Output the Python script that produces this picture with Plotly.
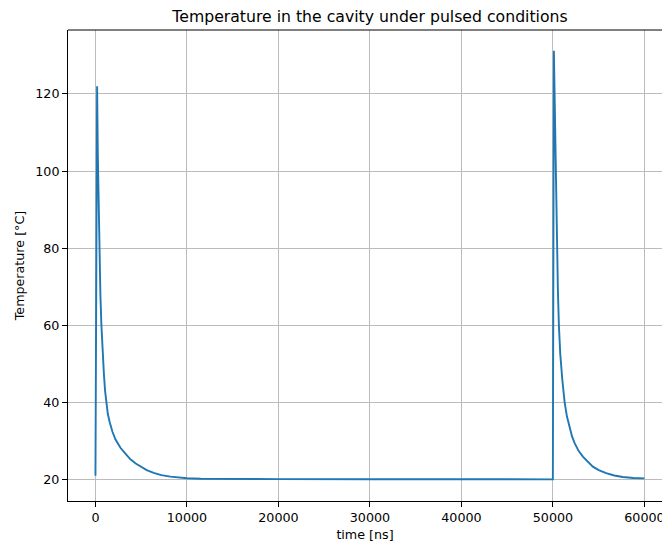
import plotly.graph_objects as go

# Data
time_ns = [
    0, 180, 260, 340, 440, 540, 650, 780, 920, 1050, 1170, 1350, 1560, 1850,
    2180, 2450, 2730, 3300, 3820, 4400, 4910, 5600, 6370, 7200, 8190, 9100, 10010,
    11500, 13000, 20000, 30000, 40000, 49990,
    50100, 50180, 50290, 50430, 50540, 50650, 50800, 51025, 51276,
    51530, 51820, 52080, 52370, 52800, 53270, 53800, 54360, 55000,
    55820, 56700, 57630, 58800, 60000,
]
temp_c = [
    20.9, 122.0, 104.0, 90.0, 78.0, 68.0, 60.0, 53.0, 47.5, 43.0, 40.0, 37.0, 34.8, 32.4,
    30.4, 29.2, 28.2, 26.6, 25.2, 24.1, 23.3, 22.4, 21.7, 21.1, 20.7, 20.45, 20.3,
    20.15, 20.1, 20.05, 20.03, 20.02, 20.0,
    131.2, 118.0, 100.0, 80.0, 69.0, 60.0, 52.5, 45.8, 40.0,
    36.3, 33.3, 31.2, 29.4, 27.4, 25.9, 24.5, 23.3, 22.4,
    21.6, 21.0, 20.6, 20.35, 20.25,
]
x_ticks = [0, 10000, 20000, 30000, 40000, 50000, 60000]
y_ticks = [20, 40, 60, 80, 100, 120]

title_text = "Temperature in the cavity under pulsed conditions"
x_label = "time [ns]"
y_label = "Temperature [°C]"

W, H = 662, 542
L, T, B = 68, 29.5, 40.7

fig = go.Figure()
fig.add_trace(go.Scatter(
    x=time_ns, y=temp_c, mode="lines",
    line=dict(color="#1f77b4", width=1.9),
    showlegend=False,
))

font = dict(family="DejaVu Sans", size=12.7, color="black")

fig.update_layout(
    width=W, height=H,
    margin=dict(l=L, r=0, t=T, b=B, pad=0),
    paper_bgcolor="white", plot_bgcolor="white",
    font=font,
    title=dict(text=title_text, x=370 / W, xanchor="center",
               y=1 - 17 / H, yanchor="middle",
               font=dict(family="DejaVu Sans", size=15.7, color="black")),
    xaxis=dict(
        range=[-3000, 61918], tickvals=x_ticks,
        ticktext=[str(v) for v in x_ticks],
        automargin=False,
        showgrid=True, gridcolor="#bcbcbc", gridwidth=1,
        zeroline=False, showline=True, linecolor="black", linewidth=1,
        ticks="outside", ticklen=5, tickcolor="black", tickwidth=1,
        ticklabeloverflow="allow",
        title=dict(text=x_label, standoff=5, font=font),
        tickfont=font,
    ),
    yaxis=dict(
        range=[14.38, 136.6], tickvals=y_ticks,
        ticktext=[str(v) for v in y_ticks],
        automargin=False,
        showgrid=True, gridcolor="#bcbcbc", gridwidth=1,
        zeroline=False, showline=True, linecolor="black", linewidth=1,
        ticks="outside", ticklen=5, tickcolor="black", tickwidth=1,
        ticklabeloverflow="allow",
        title=dict(text=y_label, standoff=7, font=font),
        tickfont=font,
    ),
    shapes=[dict(type="line", xref="paper", yref="paper", x0=0, x1=1, y0=1, y1=1,
                 line=dict(color="black", width=1))],
)

fig.write_html("out.html")
